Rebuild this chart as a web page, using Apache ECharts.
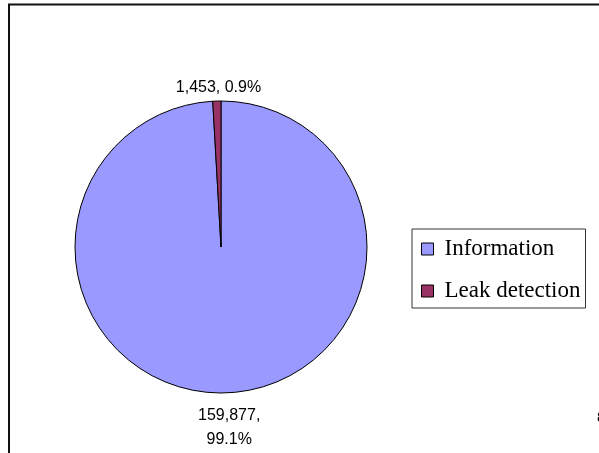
<!DOCTYPE html>
<html>
<head>
<meta charset="utf-8">
<script src="https://cdn.jsdelivr.net/npm/echarts@6/dist/echarts.min.js"></script>
<style>
  html, body { margin: 0; padding: 0; background: #fff; }
  #chart { width: 599px; height: 453px; }
</style>
</head>
<body>
<div id="chart"></div>
<script>
// Categories and counts for the pie
var categories = ['Information', 'Leak detection'];
var counts = [159877, 1453];
var colors = ['#9999FF', '#993366'];
// Text placed between the count and the percentage in each data label
var labelJoins = [',\n', ', '];

var CX = 221, CY = 247, R = 146, LABEL_GAP = 6, LABEL_DY = 5;

var total = counts.reduce(function (a, b) { return a + b; }, 0);

// Mid-angle of each slice, measured clockwise from 12 o'clock
var midAngles = [];
(function () {
  var acc = 0;
  counts.forEach(function (v) {
    var frac = v / total;
    midAngles.push((acc + frac / 2) * 2 * Math.PI);
    acc += frac;
  });
})();

function fmtNum(v) {
  return v.toString().replace(/\B(?=(\d{3})+(?!\d))/g, ',');
}

var chart = echarts.init(document.getElementById('chart'), null, { renderer: 'canvas' });

var seriesData = categories.map(function (name, i) {
  return {
    name: name,
    value: counts[i],
    itemStyle: { color: colors[i] },
    label: {
      formatter: function (p) {
        return fmtNum(p.value) + labelJoins[p.dataIndex] + p.percent.toFixed(1) + '%';
      }
    }
  };
});

chart.setOption({
  animation: false,
  backgroundColor: '#ffffff',
  legend: {
    orient: 'vertical',
    left: 412,
    top: 229,
    padding: [8, 5, 5, 9],
    itemGap: 18,
    itemWidth: 12,
    itemHeight: 12,
    icon: 'rect',
    borderColor: '#333',
    borderWidth: 1,
    borderRadius: 0,
    itemStyle: { borderColor: '#000', borderWidth: 1 },
    textStyle: {
      fontFamily: 'Liberation Serif',
      fontSize: 23,
      color: '#000',
      lineHeight: 24,
      padding: [0, 0, 0, 6]
    },
    data: categories
  },
  graphic: [
    {
      type: 'polyline',
      shape: { points: [[9, 453], [9, 4.5], [599, 4.5]] },
      style: { stroke: '#111', lineWidth: 2, fill: null },
      silent: true
    },
    {
      type: 'text',
      left: 597,
      top: 411,
      style: { text: '8', font: '14px "Liberation Sans"', fill: '#000' },
      silent: true
    }
  ],
  series: [{
    type: 'pie',
    center: [CX, CY],
    radius: [0, R],
    startAngle: 90,
    clockwise: true,
    avoidLabelOverlap: false,
    emphasis: { disabled: true },
    itemStyle: { borderColor: '#000', borderWidth: 1 },
    label: {
      show: true,
      position: 'outside',
      fontFamily: 'Liberation Sans',
      fontSize: 16,
      lineHeight: 24,
      color: '#000'
    },
    labelLine: { show: false },
    labelLayout: function (p) {
      var a = midAngles[p.dataIndex];
      var d = R + LABEL_GAP;
      var ax = CX + d * Math.sin(a);
      var ay = CY - d * Math.cos(a);
      var w = p.labelRect.width, h = p.labelRect.height;
      return {
        x: ax + Math.sin(a) * w / 2 + 3,
        y: ay - Math.cos(a) * h / 2 + LABEL_DY,
        align: 'center',
        verticalAlign: 'middle'
      };
    },
    data: seriesData
  }]
});
</script>
</body>
</html>
